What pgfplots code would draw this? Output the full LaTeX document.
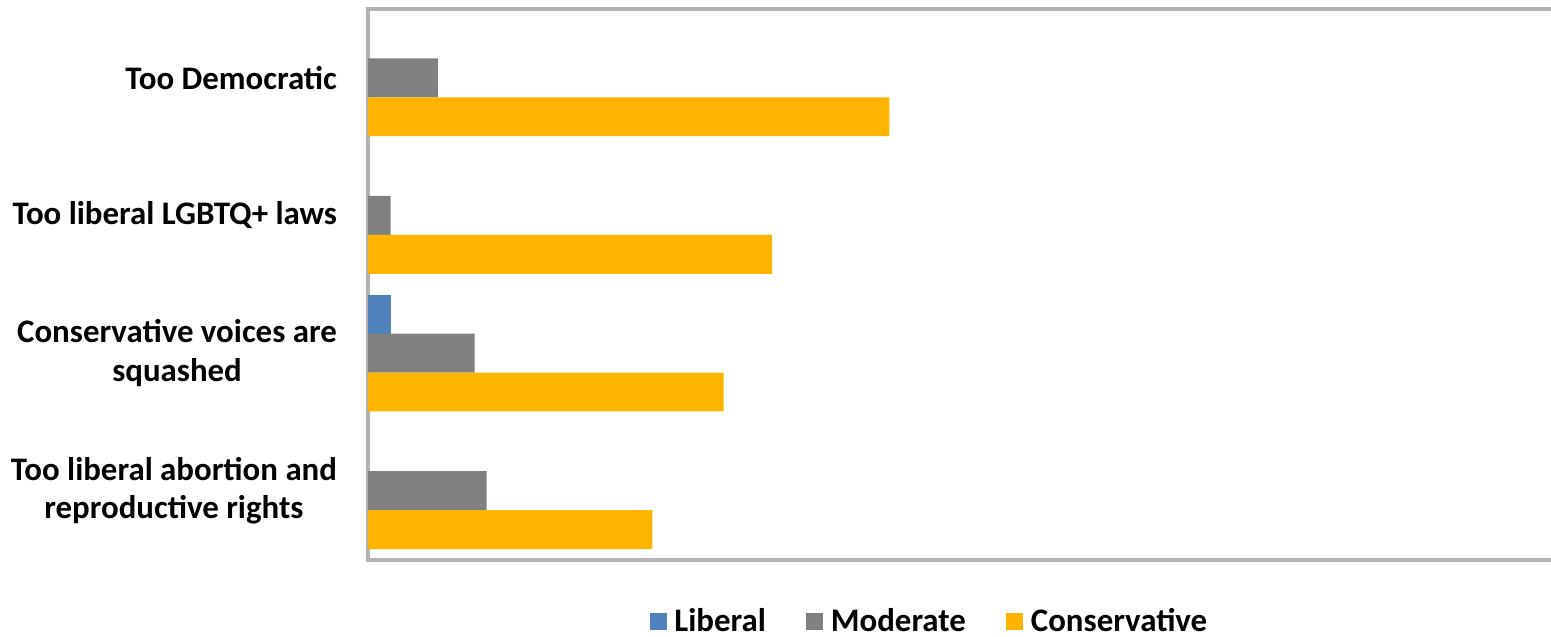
\documentclass[border=0pt]{standalone}
\usepackage{pgfplots}
\pgfplotsset{compat=1.18}
\usepackage{fontspec}
\setmainfont{Carlito}
\definecolor{libblue}{RGB}{79,129,189}
\definecolor{modgray}{RGB}{128,128,128}
\definecolor{consorange}{RGB}{255,180,0}
\definecolor{framegray}{RGB}{178,178,183}
\begin{document}
\begin{tikzpicture}
\begin{axis}[
  at={(184bp,38.75bp)}, anchor=south west,
  scale only axis,
  width=592.5bp, height=275.25bp,
  xbar,
  y dir=reverse,
  xmin=0, xmax=100,
  ymin=-0.5, ymax=3.5,
  xtick=\empty,
  ytick={0,1,2,3},
  yticklabels={Too Democratic, Too liberal LGBTQ+ laws, {Conservative voices are\\squashed}, {Too liberal abortion and\\reproductive rights}},
  yticklabel style={align=center, font=\fontsize{16.5}{19.5}\selectfont\bfseries, xshift=-12bp},
  major tick length=0pt,
  axis line style={draw=framegray, line width=2bp},
  bar width=0.2826,
  legend columns=3,
  legend style={draw=none, at={(0.4746,-0.112)}, anchor=center,
    font=\fontsize{16.5}{19.5}\selectfont\bfseries,
    /tikz/every odd column/.append style={column sep=2bp},
    /tikz/every even column/.append style={column sep=18bp}},
  legend image code/.code={\fill[#1] (0bp,-4.5bp) rectangle (8.5bp,4bp);},
]
\addplot[fill=libblue, draw=none, bar shift=-0.2826] coordinates {(1.9,2)};
\addplot[fill=modgray, draw=none, bar shift=0] coordinates {(5.9,0) (1.9,1) (9.0,2) (10.0,3)};
\addplot[fill=consorange, draw=none, bar shift=0.2826] coordinates {(44.0,0) (34.1,1) (30.0,2) (24.0,3)};
\legend{Liberal, Moderate, Conservative}
\end{axis}
\pgfresetboundingbox
\useasboundingbox (0,0) rectangle (775.5bp,318.5bp);
\end{tikzpicture}
\end{document}
